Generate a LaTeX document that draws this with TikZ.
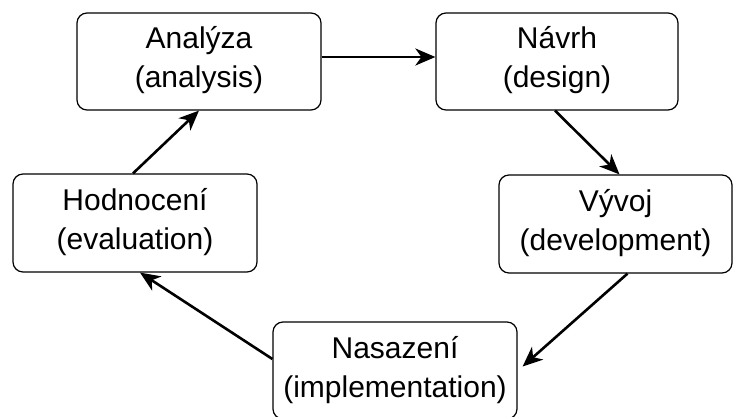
\documentclass[tikz,border=0pt]{standalone}
\usepackage{fontspec}
\setmainfont{Liberation Sans}
\usetikzlibrary{arrows.meta}
\newcommand{\topstrut}{\rule{0pt}{30pt}}
\newcommand{\botstrut}{\rule[-16pt]{0pt}{16pt}}
\tikzset{
  phase/.style={draw=black, line width=1.2pt, rounded corners=10pt, inner sep=0pt,
    minimum height=97pt, align=center, font=\fontsize{30}{39}\selectfont},
  flow/.style={line width=2.6pt, -{Stealth[length=20pt,width=17pt,inset=6pt]}}
}
\begin{document}
\begin{tikzpicture}[x=1pt,y=-1pt]
\useasboundingbox (0,0) rectangle (733,417);
\fill[white] (0,0) rectangle (733,417);
\node[phase, minimum width=244pt] (A) at (199,61.5) {\topstrut Analýza\\(analysis)\botstrut};
\node[phase, minimum width=242pt] (N) at (557,61.5) {\topstrut Návrh\\(design)\botstrut};
\node[phase, minimum width=244pt, minimum height=98pt] (H) at (135,223) {\topstrut Hodnocení\\(evaluation)\botstrut};
\node[phase, minimum width=233pt, minimum height=98pt] (V) at (615.5,224) {\topstrut Vývoj\\(development)\botstrut};
\node[phase, minimum width=244pt] (S) at (395,370.5) {\topstrut Nasazení\\(implementation)\botstrut};
\draw[flow] ([yshift=4.5pt]A.east) -- ([yshift=4.5pt]N.west);
\draw[flow] ([xshift=-2pt]N.south) -- ([xshift=4pt]V.north);
\draw[flow] ([xshift=12pt]V.south) -- ([xshift=5pt,yshift=4pt]S.east);
\draw[flow] ([yshift=11.5pt]S.west) -- ([xshift=5pt]H.south);
\draw[flow] ([xshift=-2pt]H.north) -- (A.south);
\end{tikzpicture}
\end{document}
